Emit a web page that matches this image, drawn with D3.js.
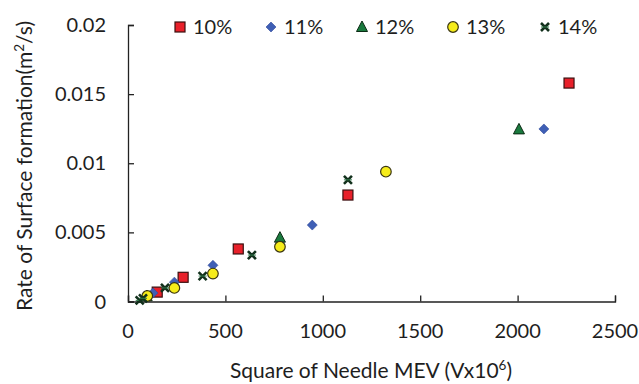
<!DOCTYPE html>
<html>
<head>
<meta charset="utf-8">
<script src="https://cdn.jsdelivr.net/npm/d3@7"></script>
<style>
  html, body { margin: 0; padding: 0; background: #fff; }
  svg { display: block; font-family: Lato, "Open Sans", "Liberation Sans", sans-serif; }
</style>
</head>
<body>
<svg id="chart" width="639" height="384"></svg>
<script>
// Rate of surface formation vs. square of needle MEV, by concentration
const seriesNames = ["10%", "11%", "12%", "13%", "14%"];

const mev10 = [150, 283, 566, 1129, 2264];
const rate10 = [0.00068, 0.00175, 0.0038, 0.0077, 0.0158];

const mev11 = [128, 238, 436, 946, 2135];
const rate11 = [0.00062, 0.00140, 0.00262, 0.00553, 0.01248];

const mev12 = [96, 780, 2007];
const rate12 = [0.00038, 0.00462, 0.01245];

const mev13 = [99, 238, 436, 780, 1324];
const rate13 = [0.00040, 0.00098, 0.00202, 0.00396, 0.00939];

const mev14 = [60, 77, 190, 383, 636, 1129];
const rate14 = [0.00008, 0.00023, 0.00098, 0.00184, 0.00336, 0.0088];

const xTicks = [0, 500, 1000, 1500, 2000, 2500];
const yTicks = [0, 0.005, 0.01, 0.015, 0.02];
const yTickLabels = ["0", "0.005", "0.01", "0.015", "0.02"];

const series = [
  { name: seriesNames[0], xs: mev10, ys: rate10, shape: "square" },
  { name: seriesNames[1], xs: mev11, ys: rate11, shape: "diamond" },
  { name: seriesNames[2], xs: mev12, ys: rate12, shape: "triangle" },
  { name: seriesNames[3], xs: mev13, ys: rate13, shape: "circle" },
  { name: seriesNames[4], xs: mev14, ys: rate14, shape: "cross" }
];

const svg = d3.select("#chart");
const plotLeft = 128, plotRight = 615, plotTop = 25, plotBottom = 301.5;

const x = d3.scaleLinear().domain([0, 2500]).range([plotLeft, plotRight]);
const y = d3.scaleLinear().domain([0, 0.02]).range([plotBottom, plotTop]);

const axisColor = "#222";
const textColor = "#1e1e1e";
const tickFont = 20;
const titleFont = 21;

// axes with inward ticks
const xAxis = svg.append("g").attr("transform", `translate(0,${plotBottom})`)
  .call(d3.axisBottom(x).tickValues(xTicks).tickSize(-6).tickFormat(""));
const yAxis = svg.append("g").attr("transform", `translate(${plotLeft},0)`)
  .call(d3.axisLeft(y).tickValues(yTicks).tickSize(-6).tickFormat(""));
[xAxis, yAxis].forEach(g => {
  g.select(".domain").attr("stroke", axisColor).attr("stroke-width", 1.3);
  g.selectAll(".tick line").attr("stroke", axisColor).attr("stroke-width", 1.3);
});

// tick labels
svg.append("g").selectAll("text").data(xTicks).join("text")
  .attr("x", d => x(d)).attr("y", 338)
  .attr("text-anchor", "middle").attr("font-size", tickFont).attr("fill", textColor)
  .text(d => d);
svg.append("g").selectAll("text").data(yTicks).join("text")
  .attr("x", 106).attr("y", d => y(d) + 7)
  .attr("text-anchor", "end").attr("font-size", tickFont).attr("fill", textColor)
  .text((d, i) => yTickLabels[i]);

// axis titles
const xt = svg.append("text").attr("x", 371).attr("y", 378)
  .attr("text-anchor", "middle").attr("font-size", titleFont).attr("fill", textColor);
xt.append("tspan").text("Square of Needle MEV (Vx10");
xt.append("tspan").attr("font-size", 13.5).attr("dy", -8).text("6");
xt.append("tspan").attr("dy", 8).text(")");

const yt = svg.append("text")
  .attr("transform", "translate(32,166) rotate(-90)")
  .attr("text-anchor", "middle").attr("font-size", titleFont).attr("fill", textColor);
yt.append("tspan").text("Rate of Surface formation(m");
yt.append("tspan").attr("font-size", 13.5).attr("dy", -8).text("2");
yt.append("tspan").attr("dy", 8).text("/s)");

// marker drawing
function drawMarker(g, shape, cx, cy) {
  if (shape === "square") {
    g.append("rect").attr("x", cx - 5).attr("y", cy - 5).attr("width", 10).attr("height", 10)
      .attr("fill", "#e8202a").attr("stroke", "#3a1010").attr("stroke-width", 1.2);
  } else if (shape === "diamond") {
    g.append("path").attr("d", `M${cx},${cy - 5}L${cx + 5},${cy}L${cx},${cy + 5}L${cx - 5},${cy}Z`)
      .attr("fill", "#3f5fb5").attr("stroke", "#2f4a9a").attr("stroke-width", 0.6);
  } else if (shape === "triangle") {
    g.append("path").attr("d", `M${cx},${cy - 6}L${cx + 5.5},${cy + 4.5}L${cx - 5.5},${cy + 4.5}Z`)
      .attr("fill", "#1a7a3e").attr("stroke", "#0b2a14").attr("stroke-width", 1);
  } else if (shape === "circle") {
    g.append("circle").attr("cx", cx).attr("cy", cy).attr("r", 5.3)
      .attr("fill", "#f6ec1a").attr("stroke", "#3a3510").attr("stroke-width", 1.2);
  } else if (shape === "cross") {
    const s = 4;
    g.append("path")
      .attr("d", `M${cx - s},${cy - s}L${cx + s},${cy + s}M${cx + s},${cy - s}L${cx - s},${cy + s}`)
      .attr("stroke", "#12301c").attr("stroke-width", 2.6).attr("fill", "none");
    g.append("path")
      .attr("d", `M${cx - s},${cy}L${cx + s},${cy}`)
      .attr("stroke", "#2f7a4a").attr("stroke-width", 1).attr("fill", "none");
  }
}

// data points
const plot = svg.append("g");
series.forEach(s => {
  const g = plot.append("g").attr("class", "series");
  s.xs.forEach((v, i) => drawMarker(g, s.shape, x(v), y(s.ys[i])));
});

// legend
const legendX = [180, 271, 362, 453, 545];
const legend = svg.append("g");
series.forEach((s, i) => {
  const g = legend.append("g");
  drawMarker(g, s.shape, legendX[i], 27);
  g.append("text").attr("x", legendX[i] + 13).attr("y", 34)
    .attr("font-size", tickFont).attr("fill", textColor).text(s.name);
});
</script>
</body>
</html>
